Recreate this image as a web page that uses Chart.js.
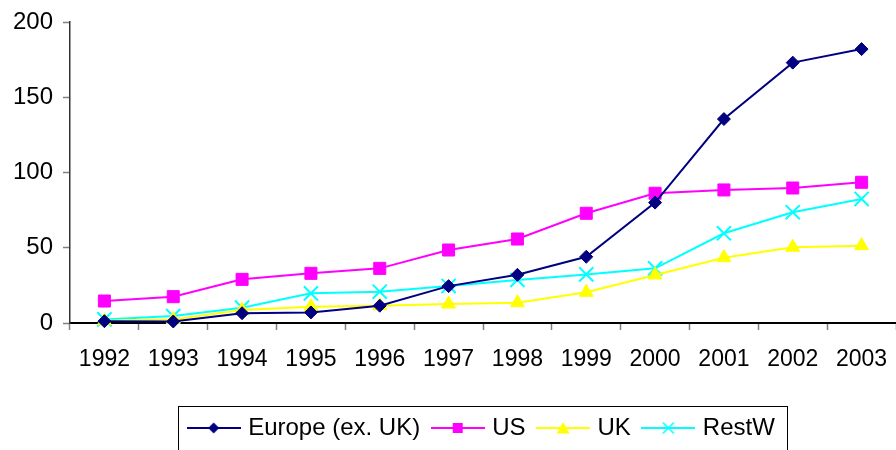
<!DOCTYPE html>
<html>
<head>
<meta charset="utf-8">
<script src="https://cdn.jsdelivr.net/npm/chart.js@4.4.1/dist/chart.umd.min.js"></script>
<style>
  html, body { margin: 0; padding: 0; background: #fff; }
  #wrap { width: 896px; height: 450px; }
</style>
</head>
<body>
<div id="wrap"><canvas id="c" width="896" height="450"></canvas></div>
<script>
const years = ['1992','1993','1994','1995','1996','1997','1998','1999','2000','2001','2002','2003'];
const europe = [1.2, 1, 6.5, 7, 11.5, 24.5, 32, 44, 80, 135.5, 173, 182];
const us = [14.6, 17.5, 29, 33, 36.3, 48.5, 55.8, 72.9, 86.2, 88.4, 89.7, 93.5];
const uk = [1.5, 2.4, 8.6, 10.8, 11.5, 12.6, 13.5, 20.4, 31.9, 43.4, 50.3, 51.4];
const restW = [2.4, 4.6, 10.2, 19.7, 20.8, 24.6, 28.6, 32.3, 36.3, 59.6, 73.6, 82.4];
const seriesNames = ['Europe (ex. UK)', 'US', 'UK', 'RestW'];
const yTicks = [0, 50, 100, 150, 200];

const FONT = '"Liberation Sans", Arial, sans-serif';

function makeIcon(color, shape) {
  const c = document.createElement('canvas');
  c.width = 54; c.height = 20;
  const g = c.getContext('2d');
  g.strokeStyle = color; g.lineWidth = 2;
  g.beginPath(); g.moveTo(0, 10); g.lineTo(54, 10); g.stroke();
  const x = 27, y = 10;
  g.fillStyle = color;
  g.beginPath();
  if (shape === 'diamond') {
    const r = 5.5;
    g.moveTo(x - r, y); g.lineTo(x, y - r); g.lineTo(x + r, y); g.lineTo(x, y + r); g.closePath(); g.fill();
  } else if (shape === 'square') {
    const s = 5;
    g.rect(x - s, y - s, 2 * s, 2 * s); g.fill();
  } else if (shape === 'triangle') {
    g.moveTo(x, y - 6); g.lineTo(x + 6.5, y + 5.5); g.lineTo(x - 6.5, y + 5.5); g.closePath(); g.fill();
  } else {
    const r = 5.5;
    g.moveTo(x - r, y - r); g.lineTo(x + r, y + r);
    g.moveTo(x + r, y - r); g.lineTo(x - r, y + r);
    g.lineWidth = 1.5; g.stroke();
  }
  return c;
}

const icons = [
  makeIcon('#000080', 'diamond'),
  makeIcon('#FF00FF', 'square'),
  makeIcon('#FFFF00', 'triangle'),
  makeIcon('#00FFFF', 'x')
];

const legendBorder = {
  id: 'legendBorder',
  afterDraw(chart) {
    const lg = chart.legend;
    if (!lg || !lg.legendHitBoxes || !lg.legendHitBoxes.length) return;
    const hb = lg.legendHitBoxes;
    const first = hb[0], last = hb[hb.length - 1];
    const left = first.left - 4.5 - 9;
    const right = last.left + last.width + 12;
    const cy = first.top + first.height / 2;
    const top = cy - 22;
    const ctx = chart.ctx;
    ctx.save();
    ctx.strokeStyle = '#000';
    ctx.lineWidth = 1;
    ctx.strokeRect(Math.round(left) + 0.5, Math.round(top) + 0.5, Math.round(right - left), 80);
    ctx.restore();
  }
};

const ctx = document.getElementById('c').getContext('2d');
new Chart(ctx, {
  type: 'line',
  data: {
    labels: years,
    datasets: [
      { label: seriesNames[0], data: europe, borderColor: '#000080', backgroundColor: '#000080',
        borderWidth: 2, pointStyle: 'rectRot', pointRadius: 6.5, pointBorderWidth: 1, clip: false },
      { label: seriesNames[1], data: us, borderColor: '#FF00FF', backgroundColor: '#FF00FF',
        borderWidth: 2, pointStyle: 'rect', pointRadius: 8.5, pointBorderWidth: 1, clip: false },
      { label: seriesNames[2], data: uk, borderColor: '#FFFF00', backgroundColor: '#FFFF00',
        borderWidth: 2, pointStyle: 'triangle', pointRadius: 8, pointBorderWidth: 1, clip: false },
      { label: seriesNames[3], data: restW, borderColor: '#00FFFF', backgroundColor: '#00FFFF',
        borderWidth: 2, pointStyle: 'crossRot', pointRadius: 10, pointBorderWidth: 2, clip: false }
    ]
  },
  options: {
    responsive: false,
    animation: false,
    devicePixelRatio: 1,
    layout: { autoPadding: false, padding: { top: 22, right: 0, left: 0, bottom: 0 } },
    elements: { line: { tension: 0 } },
    plugins: {
      tooltip: { enabled: false },
      legend: {
        position: 'bottom',
        fullSize: false,
        labels: {
          color: '#000',
          font: { family: FONT, size: 24 },
          usePointStyle: true,
          pointStyleWidth: 45,
          boxHeight: 20,
          padding: 15,
          generateLabels(chart) {
            const items = Chart.defaults.plugins.legend.labels.generateLabels(chart);
            items.forEach((it, i) => { it.pointStyle = icons[i]; it.lineWidth = 0; });
            return items;
          }
        }
      }
    },
    scales: {
      x: {
        offset: true,
        grid: { offset: true, drawOnChartArea: false, tickLength: 7, color: '#808080', tickWidth: 1.5 },
        border: { color: '#000', width: 2 },
        ticks: { color: '#000', font: { family: FONT, size: 23 }, padding: 16, maxRotation: 0, autoSkip: false },
        afterFit(scale) { scale.height = 78; scale.paddingLeft = 0; scale.paddingRight = 0; }
      },
      y: {
        min: 0,
        max: 200,
        afterBuildTicks(scale) { scale.ticks = yTicks.map(v => ({ value: v })); },
        grid: { drawOnChartArea: false, tickLength: 7, color: '#808080', tickWidth: 1.5 },
        border: { color: '#333', width: 1.5 },
        ticks: { color: '#000', font: { family: FONT, size: 24 }, padding: 10 },
        afterFit(scale) { scale.width = 70; scale.paddingTop = 0; scale.paddingBottom = 0; }
      }
    }
  },
  plugins: [legendBorder]
});
</script>
</body>
</html>
